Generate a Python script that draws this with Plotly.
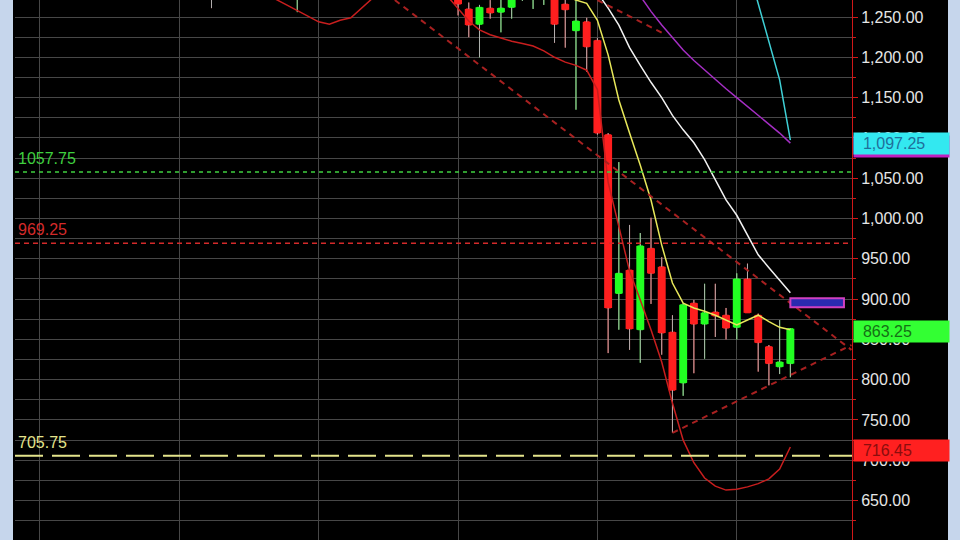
import plotly.graph_objects as go

# ---------------- data ----------------
bar_idx = [16, 24, 39, 40, 41, 42, 43, 44, 45, 46, 47, 48, 49, 50, 51, 52, 53, 54, 55, 56,
           57, 58, 59, 60, 61, 62, 63, 64, 65, 66, 67, 68, 69, 70]
opens  = [1290, 1280, 1285, 1260, 1241, 1261, 1256, 1262, 1272, 1285, 1290, 1280, 1266, 1233, 1244, 1221, 1104, 907, 936, 862,
          963, 940, 859, 796, 895, 869, 884, 880, 865, 925, 880, 841, 816, 820]
highs  = [1300, 1295, 1295, 1268, 1265, 1271, 1272, 1285, 1285, 1295, 1298, 1290, 1275, 1275, 1249, 1224, 1106, 1070, 992, 982,
          1001, 952, 880, 895, 899, 919, 919, 889, 932, 944, 882, 843, 874, 864]
lows   = [1261, 1256, 1252, 1225, 1200, 1248, 1231, 1248, 1270, 1260, 1265, 1218, 1212, 1135, 1182, 1104, 833, 862, 837, 821,
          894, 831, 734, 780, 808, 826, 853, 850, 850, 883, 810, 793, 807, 803]
closes = [1283, 1288, 1266, 1240, 1262, 1255, 1261, 1275, 1274, 1290, 1294, 1241, 1259, 1245, 1213, 1106, 889, 932, 863, 966,
          932, 858, 787, 893, 869, 883, 879, 864, 925, 883, 846, 820, 822, 863.25]

ma_x = list(range(0, 71))
N = None
yellow_ma = [N]*43 + [1280, 1276, 1272, 1274, 1277, 1279, 1276, 1271, 1267, 1246, 1203, 1147, 1106, 1066, 1023, 967, 920,
                      895, 889, 885, 880, 874, 868, 874, 880, 872, 865, 862]
white_ma = [N]*52 + [1280, 1261, 1240, 1212, 1190, 1169, 1150, 1128, 1110, 1094, 1073, 1048, 1023, 1004, 980, 955, 939,
                     924, 908]
magenta_ma = [N]*56 + [1276, 1257, 1240, 1224, 1209, 1196, 1184, 1173, 1161, 1150, 1139, 1128, 1117, 1106, 1093.5]
upper_band = [N]*66 + [1314, 1267, 1221, 1172, 1097.25]
lower_band = ([N]*21 + [1282, 1272, 1265, 1258, 1250, 1244, 1241, 1246, 1249, 1261, 1273, 1285] + [N]*5 +
              [1276, 1261, 1245, 1234, 1228, 1224, 1220, 1217, 1214, 1208, 1200, 1194, 1190, 1184, 1160, 1045, 991,
               935, 899, 862, 822, 771, 725, 697, 678, 668, 663, 664, 667, 671, 677, 689, 716.45])

level_values = [1057.75, 969.25, 705.75]
level_texts = ["1057.75", "969.25", "705.75"]
level_colors = ["#3fcf3f", "#d42a2a", "#e4e48c"]

trend_lines = [
    ([33.1, 75.7], [1271, 837]),
    ([59.0, 75.7], [734, 843]),
    ([52.0, 58.1], [1271, 1230]),
]

price_labels = [  # value, text, fill, text colour
    (1093.5, "", "#c020c0", "#c020c0"),
    (1097.25, "1,097.25", "#33e8f0", "#1f6f9a"),
    (863.25, "863.25", "#33ff33", "#157015"),
    (716.45, "716.45", "#ff2020", "#8a0d0d"),
]
order_box = (70, 75, 890, 901)

X_RANGE = [-2.33, 75.75]
Y_RANGE = [601.1, 1271.1]

# ---------------- figure ----------------
UP, DOWN, WICK = "#22ff22", "#ff1f1f", "#b0b0b0"
fig = go.Figure()

body_base = [min(o, c) for o, c in zip(opens, closes)]
body_h = [max(abs(c - o), 1.5) for o, c in zip(opens, closes)]
body_col = [UP if c >= o else DOWN for o, c in zip(opens, closes)]
fig.add_trace(go.Bar(x=bar_idx, y=body_h, base=body_base, width=0.74,
                     marker=dict(color=body_col, line=dict(width=0)),
                     showlegend=False, hoverinfo="skip"))

fig.add_trace(go.Candlestick(
    x=bar_idx, open=opens, high=highs, low=lows, close=closes,
    increasing=dict(line=dict(color=UP, width=1), fillcolor=UP),
    decreasing=dict(line=dict(color=DOWN, width=1), fillcolor=DOWN),
    whiskerwidth=0, showlegend=False, hoverinfo="skip"))

# grey wicks outside the bodies
wx, wy = [], []
for i, o, h, l, c in zip(bar_idx, opens, highs, lows, closes):
    top, bot = max(o, c), min(o, c)
    wx += [i, i, None, i, i, None]
    wy += [h, top, None, bot, l, None]
fig.add_trace(go.Scatter(x=wx, y=wy, mode="lines", line=dict(color=WICK, width=1),
                         showlegend=False, hoverinfo="skip"))

for vals, col in [(lower_band, "#c81e1e"), (upper_band, "#3fd0d6"), (magenta_ma, "#a52ec4"),
                  (white_ma, "#f2f2f2"), (yellow_ma, "#e8e85a")]:
    fig.add_trace(go.Scatter(x=ma_x, y=vals, mode="lines", line=dict(color=col, width=1.5),
                             connectgaps=False, showlegend=False, hoverinfo="skip"))

for tx, ty in trend_lines:
    fig.add_trace(go.Scatter(x=tx, y=ty, mode="lines",
                             line=dict(color="#a82020", width=2, dash="6px,5px"),
                             showlegend=False, hoverinfo="skip"))

dashes = ["4px,4px", "5px,4px", "28px,9px"]
for v, t, c, d in zip(level_values, level_texts, level_colors, dashes):
    fig.add_shape(type="line", xref="paper", x0=0, x1=1, yref="y", y0=v, y1=v,
                  line=dict(color=c, width=1.5 if d != "28px,9px" else 2, dash=d))
    fig.add_annotation(xref="paper", x=0, xanchor="left", xshift=1, yref="y", y=v,
                       yanchor="bottom", yshift=3, text=t, showarrow=False,
                       font=dict(family="Liberation Sans", size=16, color=c))

fig.add_shape(type="rect", x0=order_box[0], x1=order_box[1], y0=order_box[2], y1=order_box[3],
              line=dict(color="#d040c0", width=2), fillcolor="#2a2ab0")

for v, t, bg, fc in price_labels:
    fig.add_annotation(xref="paper", x=1, xanchor="left", xshift=1, yref="y", y=v,
                       yanchor="middle", yshift=-3,
                       text="\u00a0\u00a0" + t if t else "\u00a0", showarrow=False,
                       width=95, height=21, align="left", bgcolor=bg, borderpad=0,
                       font=dict(family="Liberation Sans", size=16, color=fc))

# light-blue window frame on both sides
fig.add_shape(type="rect", xref="paper", yref="paper", x0=-15/837, x1=-2/837, y0=0, y1=1,
              fillcolor="#c6d6ec", line=dict(width=0), layer="above")
fig.add_shape(type="rect", xref="paper", yref="paper", x0=(948-15)/837, x1=(960-15)/837, y0=0, y1=1,
              fillcolor="#c6d6ec", line=dict(width=0), layer="above")

fig.update_layout(
    width=960, height=540, margin=dict(l=15, r=108, t=0, b=0),
    paper_bgcolor="#000000", plot_bgcolor="#000000", barmode="overlay",
    showlegend=False, hovermode=False,
    xaxis=dict(range=X_RANGE, tick0=0, dtick=13, showgrid=True, gridcolor="#474747", gridwidth=1,
               showticklabels=False, zeroline=False, rangeslider=dict(visible=False), fixedrange=True),
    yaxis=dict(range=Y_RANGE, side="right", tick0=0, dtick=50, tickformat=",.2f",
               showgrid=True, gridcolor="#474747", gridwidth=1, zeroline=False,
               showline=True, linecolor="#d01818", linewidth=1,
               ticks="outside", ticklen=5, tickcolor="#d01818",
               minor=dict(dtick=25, showgrid=True, gridcolor="#474747", ticks="outside",
                          ticklen=3, tickcolor="#d01818"),
               tickfont=dict(family="Liberation Sans", size=16, color="#e6e6e6"),
               fixedrange=True),
)

fig.write_html("out.html", config={"displayModeBar": False},
               post_script="document.body.style.margin='0';document.body.style.overflow='hidden';")
